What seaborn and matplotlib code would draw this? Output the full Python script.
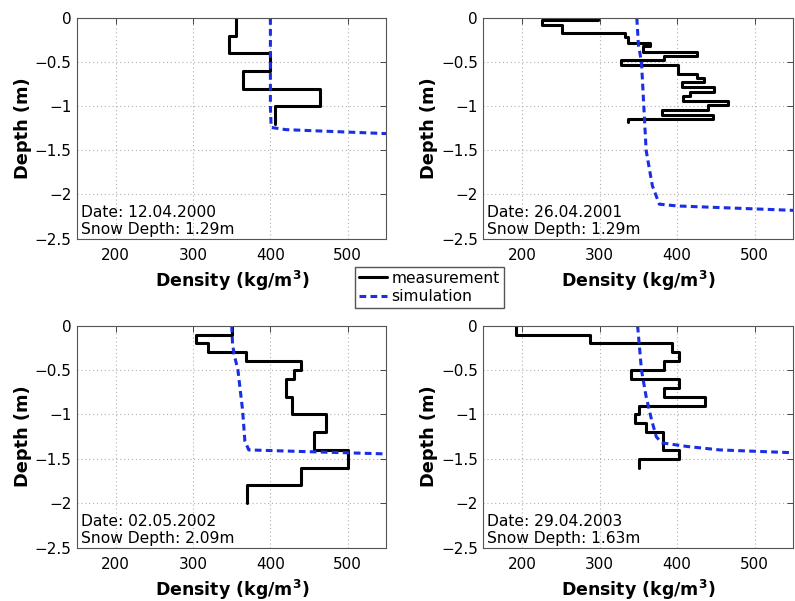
# ============================================================
# Snow density profiles: measurement vs simulation
# ============================================================

import pandas as pd
import matplotlib
matplotlib.use("Agg")
import matplotlib.pyplot as plt
import seaborn as sns

# ============================================================
# Data
# ============================================================

dates = ["12.04.2000", "26.04.2001", "02.05.2002", "29.04.2003"]
snow_depths = ["1.29m", "1.29m", "2.09m", "1.63m"]

# measured layers: boundaries (m) and density of each layer (kg/m3)
meas_bounds_2000 = [0, -0.2, -0.4, -0.6, -0.8, -1.0, -1.2]
meas_dens_2000 = [355, 346, 400, 364, 464, 406]

meas_bounds_2001 = [0, -0.025, -0.08, -0.175, -0.22, -0.28, -0.32, -0.38,
                    -0.43, -0.48, -0.53, -0.64, -0.68, -0.73, -0.78, -0.84,
                    -0.885, -0.935, -0.99, -1.04, -1.095, -1.14, -1.18]
meas_dens_2001 = [298, 226, 252, 333, 336, 365, 356, 426, 383, 328, 401,
                  425, 435, 406, 448, 416, 407, 466, 440, 381, 446, 336]

meas_bounds_2002 = [0, -0.1, -0.2, -0.3, -0.4, -0.5, -0.6, -0.8, -1.0,
                    -1.2, -1.4, -1.6, -1.8, -2.0]
meas_dens_2002 = [350, 304, 319, 368, 440, 430, 420, 428, 472, 457, 500,
                  440, 370]

meas_bounds_2003 = [0, -0.1, -0.2, -0.3, -0.4, -0.5, -0.6, -0.7, -0.8,
                    -0.9, -1.0, -1.1, -1.2, -1.4, -1.5, -1.6]
meas_dens_2003 = [192, 288, 393, 403, 383, 340, 403, 383, 436, 351, 346,
                  360, 382, 403, 351]

# simulated profiles
sim_dens_2000 = [400, 400, 401, 420, 550, 600]
sim_depth_2000 = [0, -1.0, -1.24, -1.265, -1.31, -1.33]

sim_dens_2001 = [348, 350, 354, 357, 360, 368, 377, 400, 550, 600]
sim_depth_2001 = [0, -0.3, -0.5, -1.0, -1.5, -1.9, -2.11, -2.13, -2.18, -2.19]

sim_dens_2002 = [350, 351, 353, 358, 364, 367, 372, 450, 550, 600]
sim_depth_2002 = [0, -0.2, -0.32, -0.5, -0.95, -1.3, -1.4, -1.42, -1.445, -1.46]

sim_dens_2003 = [349, 354, 360, 367, 373, 380, 412, 455, 545, 600]
sim_depth_2003 = [0, -0.5, -0.8, -1.06, -1.25, -1.32, -1.36, -1.40, -1.43, -1.44]

x_ticks = [200, 300, 400, 500]
y_ticks = [0, -0.5, -1, -1.5, -2, -2.5]
y_tick_labels = ["0", "\u22120.5", "\u22121", "\u22121.5", "\u22122", "\u22122.5"]

panels = [
    (meas_bounds_2000, meas_dens_2000, sim_dens_2000, sim_depth_2000),
    (meas_bounds_2001, meas_dens_2001, sim_dens_2001, sim_depth_2001),
    (meas_bounds_2002, meas_dens_2002, sim_dens_2002, sim_depth_2002),
    (meas_bounds_2003, meas_dens_2003, sim_dens_2003, sim_depth_2003),
]


def step_profile(bounds, dens):
    xs, ys = [], []
    for i, d in enumerate(dens):
        xs += [d, d]
        ys += [bounds[i], bounds[i + 1]]
    return pd.DataFrame({"density": xs, "depth": ys})


# ============================================================
# Figure
# ============================================================

sns.set_theme(style="white")
plt.rcParams["font.family"] = ["DejaVu Sans"]
plt.rcParams["axes.unicode_minus"] = True
plt.rcParams["text.color"] = "black"
plt.rcParams["axes.labelcolor"] = "black"
plt.rcParams["xtick.color"] = "black"
plt.rcParams["ytick.color"] = "black"

fig = plt.figure(figsize=(7.95, 6.01), dpi=100)

positions = [
    [0.097, 0.603, 0.389, 0.367],
    [0.608, 0.603, 0.390, 0.367],
    [0.097, 0.089, 0.389, 0.369],
    [0.608, 0.089, 0.390, 0.369],
]

BLUE = "#1a2ee6"

for k, (bounds, dens, sdens, sdepth) in enumerate(panels):
    ax = fig.add_axes(positions[k])

    meas = step_profile(bounds, dens)
    sim = pd.DataFrame({"density": sdens, "depth": sdepth})

    sns.lineplot(data=meas, x="density", y="depth", sort=False,
                 estimator=None, color="black", linewidth=2.2, ax=ax,
                 label="measurement")
    sns.lineplot(data=sim, x="density", y="depth", sort=False,
                 estimator=None, color=BLUE, linewidth=2.2, ax=ax,
                 linestyle=(0, (2.2, 1.4)), label="simulation")

    ax.set_xlim(150, 550)
    ax.set_ylim(-2.5, 0)
    ax.set_xticks(x_ticks)
    ax.set_yticks(y_ticks)
    ax.set_yticklabels(y_tick_labels)
    ax.grid(True, linestyle=(0, (1, 2.5)), color="#b0b0b0", linewidth=0.8)
    ax.tick_params(direction="in", length=4, width=0.7, labelsize=11,
                   top=True, right=True, color="#444444",
                   labelcolor="black")
    ax.tick_params(axis="x", pad=7)
    ax.tick_params(axis="y", pad=4)
    for sp in ax.spines.values():
        sp.set_color("#555555")
        sp.set_linewidth(0.8)

    ax.set_xlabel("Density (kg/m$^\\mathbf{3}$)", fontsize=12.5,
                  fontweight="bold", labelpad=4)
    ax.set_ylabel("Depth (m)", fontsize=12.8, fontweight="bold", labelpad=2)

    ax.text(0.012, 0.005,
            "Date: " + dates[k] + "\nSnow Depth: " + snow_depths[k],
            transform=ax.transAxes, ha="left", va="bottom", fontsize=11.2,
            linespacing=1.2, color="black")

    handles, labels = ax.get_legend_handles_labels()
    ax.get_legend().remove()

fig.legend(handles, labels, loc="upper left",
           bbox_to_anchor=(0.4465, 0.5557), fontsize=11.2, frameon=True,
           fancybox=False, edgecolor="#555555", framealpha=1,
           handlelength=1.8, handletextpad=0.3, borderpad=0.25,
           labelspacing=0.2, borderaxespad=0)

plt.savefig("out.png", dpi=100)
plt.close()
